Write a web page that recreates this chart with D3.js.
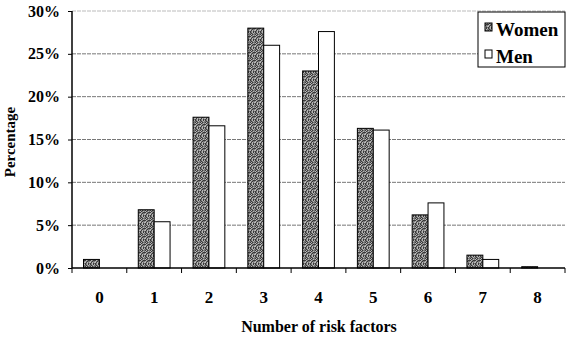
<!DOCTYPE html>
<html>
<head>
<meta charset="utf-8">
<script src="https://cdn.jsdelivr.net/npm/d3@7"></script>
<style>
  body { margin: 0; background: #fff; }
  text { font-family: "Liberation Serif", "Times New Roman", serif; font-weight: bold; fill: #000; }
</style>
</head>
<body>
<svg width="580" height="339"></svg>
<script>
var categories = ["0", "1", "2", "3", "4", "5", "6", "7", "8"];
var women = [1.0, 6.8, 17.6, 28.0, 23.0, 16.3, 6.2, 1.5, 0.15];
var men = [0, 5.4, 16.6, 26.0, 27.6, 16.1, 7.6, 1.0, 0];
var yTicks = [0, 5, 10, 15, 20, 25, 30];

var margins = { top: 11, bottom: 71, left: 72, right: 15 };
var width = 580, height = 339;

var svg = d3.select("svg");

// stipple texture for women bars
var shades = "0120210121020112012102100210112021201201";
var pat = svg.append("defs").append("pattern")
  .attr("id", "stipple")
  .attr("patternUnits", "userSpaceOnUse")
  .attr("width", 5).attr("height", 8);
var greys = ["#3a3a3a", "#777", "#b5b5b5"];
for (var i = 0; i < 40; i++) {
  pat.append("rect")
    .attr("x", i % 5).attr("y", Math.floor(i / 5))
    .attr("width", 1).attr("height", 1)
    .attr("fill", greys[+shades[i]]);
}

var xScale = d3.scaleBand()
  .domain(categories)
  .range([margins.left, width - margins.right]);

var yScale = d3.scaleLinear()
  .domain([0, 30])
  .range([height - margins.bottom, margins.top]);

// grid
svg.append("g")
  .selectAll("line")
  .data(yTicks.slice(1))
  .enter().append("line")
  .attr("x1", margins.left).attr("x2", width - margins.right)
  .attr("y1", function(d) { return yScale(d); })
  .attr("y2", function(d) { return yScale(d); })
  .attr("stroke", function(d) { return d == 30 ? "#bbb" : "#777"; })
  .attr("stroke-width", 1)
  .attr("stroke-dasharray", "4,1");

var inner = 0.21, bw = (0.79 - 0.21) / 2;

svg.append("g").selectAll("rect")
  .data(women)
  .enter().append("rect")
  .attr("x", function(d, i) { return xScale(categories[i]) + xScale.bandwidth() * inner; })
  .attr("width", xScale.bandwidth() * bw)
  .attr("y", function(d) { return yScale(d); })
  .attr("height", function(d) { return yScale(0) - yScale(d); })
  .attr("fill", "url(#stipple)")
  .attr("stroke", "#000")
  .attr("stroke-width", 1);

svg.append("g").selectAll("rect")
  .data(men)
  .enter().append("rect")
  .attr("x", function(d, i) { return xScale(categories[i]) + xScale.bandwidth() * (inner + bw); })
  .attr("width", xScale.bandwidth() * bw)
  .attr("y", function(d) { return yScale(d); })
  .attr("height", function(d) { return yScale(0) - yScale(d); })
  .attr("fill", "#fff")
  .attr("stroke", function(d) { return d > 0 ? "#000" : "none"; })
  .attr("stroke-width", 1);

// y axis
var yAxis = d3.axisLeft(yScale)
  .tickValues(yTicks)
  .tickSize(4)
  .tickPadding(8)
  .tickFormat(function(d) { return d + "%"; });

svg.append("g")
  .attr("transform", "translate(" + margins.left + ",0)")
  .call(yAxis)
  .call(function(g) {
    g.select(".domain").attr("stroke-width", 1.5).attr("d", "M0," + yScale(30) + "V" + yScale(0));
    g.selectAll("text").style("font-size", "16px");
  });

// x axis with ticks on boundaries
var xAxisG = svg.append("g")
  .attr("transform", "translate(0," + yScale(0) + ")");

xAxisG.append("line")
  .attr("x1", margins.left).attr("x2", width - margins.right)
  .attr("stroke", "#000").attr("stroke-width", 1.5);

xAxisG.selectAll(".tk")
  .data(categories.concat(["end"]))
  .enter().append("line")
  .attr("class", "tk")
  .attr("x1", function(d, i) { return margins.left + i * xScale.bandwidth(); })
  .attr("x2", function(d, i) { return margins.left + i * xScale.bandwidth(); })
  .attr("y1", 0).attr("y2", 5)
  .attr("stroke", "#000");

xAxisG.selectAll(".lbl")
  .data(categories)
  .enter().append("text")
  .attr("class", "lbl")
  .attr("x", function(d) { return xScale(d) + xScale.bandwidth() / 2; })
  .attr("y", 35)
  .attr("text-anchor", "middle")
  .style("font-size", "17px")
  .text(function(d) { return d; });

svg.append("text")
  .attr("x", 319).attr("y", 332)
  .attr("text-anchor", "middle")
  .style("font-size", "16px")
  .text("Number of risk factors");

svg.append("text")
  .attr("transform", "translate(15,142) rotate(-90)")
  .attr("text-anchor", "middle")
  .style("font-size", "15px")
  .text("Percentage");

// legend
var legend = svg.append("g").attr("transform", "translate(478,12)");
legend.append("rect")
  .attr("width", 87).attr("height", 55)
  .attr("fill", "#fff").attr("stroke", "#000");
var items = [{ name: "Women", fill: "url(#stipple)" }, { name: "Men", fill: "#fff" }];
items.forEach(function(it, i) {
  legend.append("rect")
    .attr("x", 7).attr("y", 11 + i * 27)
    .attr("width", 7).attr("height", 8)
    .attr("fill", it.fill).attr("stroke", "#000");
  legend.append("text")
    .attr("x", 18).attr("y", 24 + i * 27)
    .style("font-size", "19px")
    .text(it.name);
});
</script>
</body>
</html>
